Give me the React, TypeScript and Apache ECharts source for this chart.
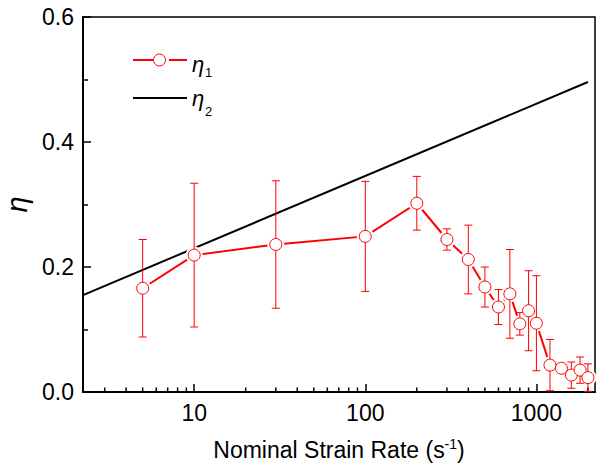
import React, { useEffect, useRef } from "react";
import * as echarts from "echarts";

// Nominal strain rate (s^-1)
const strainRate = [5, 10, 30, 100, 200, 300, 400, 500, 600, 700, 800, 900, 1000, 1200, 1400, 1600, 1800, 2000];
// eta_1 values and symmetric error
const eta1 = [0.166, 0.219, 0.236, 0.249, 0.302, 0.244, 0.212, 0.168, 0.136, 0.157, 0.109, 0.130, 0.110, 0.043, 0.038, 0.027, 0.035, 0.023];
const eta1Err = [0.078, 0.115, 0.102, 0.088, 0.043, 0.017, 0.055, 0.032, 0.028, 0.071, 0.018, 0.064, 0.076, 0.041, 0.004, 0.021, 0.021, 0.022];
// eta_2 straight line (in log x), end points
const eta2X = [2.24, 2000];
const eta2Y = [0.155, 0.496];
// axes
const xMin = 2.24;
const xMax = 2200;
const yMin = 0;
const yMax = 0.6;
const yInterval = 0.2;
const xMinorTicks = [3, 4, 5, 6, 7, 8, 9, 20, 30, 40, 50, 60, 70, 80, 90, 200, 300, 400, 500, 600, 700, 800, 900, 2000];

const FONT = '"Liberation Sans", Arial, sans-serif';
const RED = "#ff0000";

export default function App() {
  const ref = useRef<HTMLDivElement>(null);
  useEffect(() => {
    if (!ref.current) return;
    const chart = echarts.init(ref.current, null, { renderer: "svg" });
    const txt = (text: string, x: number, y: number, size: number, italic: boolean) => ({
      type: "text",
      x,
      y,
      silent: true,
      style: {
        text,
        fontSize: size,
        fontStyle: italic ? "italic" : "normal",
        fontFamily: FONT,
        fill: "#000",
        align: "left",
        verticalAlign: "middle",
      },
    });
    const option: any = {
      animation: false,
      backgroundColor: "#fff",
      grid: {
        left: 83,
        right: 2,
        top: 17,
        bottom: 74,
        containLabel: false,
        outerBoundsMode: "none",
        show: true,
        borderColor: "#000",
        borderWidth: 1.5,
        backgroundColor: "transparent",
      },
      graphic: [
        { type: "line", silent: true, shape: { x1: 133, y1: 60, x2: 153, y2: 60 }, style: { stroke: RED, lineWidth: 2 } },
        { type: "circle", silent: true, shape: { cx: 159.5, cy: 60, r: 6 }, style: { stroke: RED, fill: "#fff", lineWidth: 1 } },
        { type: "line", silent: true, shape: { x1: 169, y1: 60, x2: 187, y2: 60 }, style: { stroke: RED, lineWidth: 2 } },
        txt("η", 192, 64.4, 22, true),
        txt("1", 205, 72.8, 13, false),
        { type: "line", silent: true, shape: { x1: 133, y1: 98, x2: 187, y2: 98 }, style: { stroke: "#000", lineWidth: 2 } },
        txt("η", 192, 98.8, 22, true),
        txt("2", 205, 111.5, 13, false),
      ],
      xAxis: {
        type: "log",
        logBase: 10,
        min: xMin,
        max: xMax,
        name: "{a|Nominal Strain Rate (s}{b|-1}{a|)}",
        nameLocation: "middle",
        nameGap: 45,
        nameTextStyle: {
          rich: {
            a: { fontSize: 23, fontFamily: FONT, color: "#000", lineHeight: 26 },
            b: { fontSize: 14, fontFamily: FONT, color: "#000", verticalAlign: "top", lineHeight: 26 },
          },
        },
        axisLine: { show: true, onZero: false, lineStyle: { color: "#000", width: 2 } },
        axisTick: { show: true, inside: true, length: 8, lineStyle: { color: "#000", width: 1.5 } },
        axisLabel: {
          show: true,
          showMinLabel: false,
          showMaxLabel: false,
          margin: 9,
          fontSize: 23,
          fontFamily: FONT,
          color: "#000",
          formatter: (v: number) => String(Math.round(v)),
        },
        splitLine: { show: false },
        minorTick: { show: false },
      },
      yAxis: {
        type: "value",
        min: yMin,
        max: yMax,
        interval: yInterval,
        name: "η",
        nameLocation: "middle",
        nameGap: 50,
        nameRotate: 90,
        nameTextStyle: { fontSize: 29, fontStyle: "italic", fontFamily: FONT, color: "#000" },
        axisLine: { show: true, lineStyle: { color: "#000", width: 2 } },
        axisTick: { show: true, inside: true, length: 8, lineStyle: { color: "#000", width: 1.5 } },
        minorTick: { show: true, splitNumber: 2, length: 5, lineStyle: { color: "#000", width: 1.5 } },
        axisLabel: {
          margin: 9,
          fontSize: 23,
          fontFamily: FONT,
          color: "#000",
          formatter: (v: number) => v.toFixed(1),
        },
        splitLine: { show: false },
      },
      series: [
        {
          name: "minorTicks",
          type: "custom",
          silent: true,
          z: 1,
          data: xMinorTicks.map((v) => [v, yMin]),
          encode: { x: 0, y: 1 },
          renderItem: (params: any, api: any) => {
            const p = api.coord([api.value(0), api.value(1)]);
            return {
              type: "line",
              shape: { x1: p[0], y1: p[1], x2: p[0], y2: p[1] - 4.5 },
              style: { stroke: "#000", lineWidth: 1.5 },
            };
          },
        },
        {
          name: "η2",
          type: "line",
          z: 2,
          data: eta2X.map((x, i) => [x, eta2Y[i]]),
          symbol: "none",
          lineStyle: { color: "#000", width: 2 },
          itemStyle: { color: "#000" },
        },
        {
          name: "η1",
          type: "line",
          z: 3,
          data: strainRate.map((x, i) => [x, eta1[i]]),
          symbol: "circle",
          symbolSize: 12,
          showSymbol: false,
          lineStyle: { color: RED, width: 2 },
          itemStyle: { color: "#fff", borderColor: RED, borderWidth: 1 },
        },
        {
          name: "halo",
          type: "scatter",
          z: 4,
          silent: true,
          data: strainRate.map((x, i) => [x, eta1[i]]),
          symbol: "circle",
          symbolSize: 17,
          itemStyle: { color: "#fff", opacity: 1 },
        },
        {
          name: "errorBars",
          type: "custom",
          z: 5,
          silent: true,
          data: strainRate.map((x, i) => [x, eta1[i] - eta1Err[i], eta1[i] + eta1Err[i]]),
          encode: { x: 0, y: [1, 2] },
          renderItem: (params: any, api: any) => {
            const x = api.value(0);
            const top = api.coord([x, api.value(2)]);
            const bot = api.coord([x, api.value(1)]);
            const w = 4;
            const st = { stroke: RED, lineWidth: 1 };
            return {
              type: "group",
              children: [
                { type: "line", shape: { x1: top[0], y1: top[1], x2: bot[0], y2: bot[1] }, style: st },
                { type: "line", shape: { x1: top[0] - w, y1: top[1], x2: top[0] + w, y2: top[1] }, style: st },
                { type: "line", shape: { x1: bot[0] - w, y1: bot[1], x2: bot[0] + w, y2: bot[1] }, style: st },
              ],
            };
          },
        },
        {
          name: "markers",
          type: "scatter",
          z: 6,
          silent: true,
          data: strainRate.map((x, i) => [x, eta1[i]]),
          symbol: "circle",
          symbolSize: 12,
          itemStyle: { color: "#fff", borderColor: RED, borderWidth: 1, opacity: 1 },
        },
      ],
    };
    chart.setOption(option);
    return () => chart.dispose();
  }, []);
  return (
    <div
      ref={ref}
      style={{ position: "absolute", left: 0, top: 0, width: 597, height: 466, background: "#fff" }}
    />
  );
}
